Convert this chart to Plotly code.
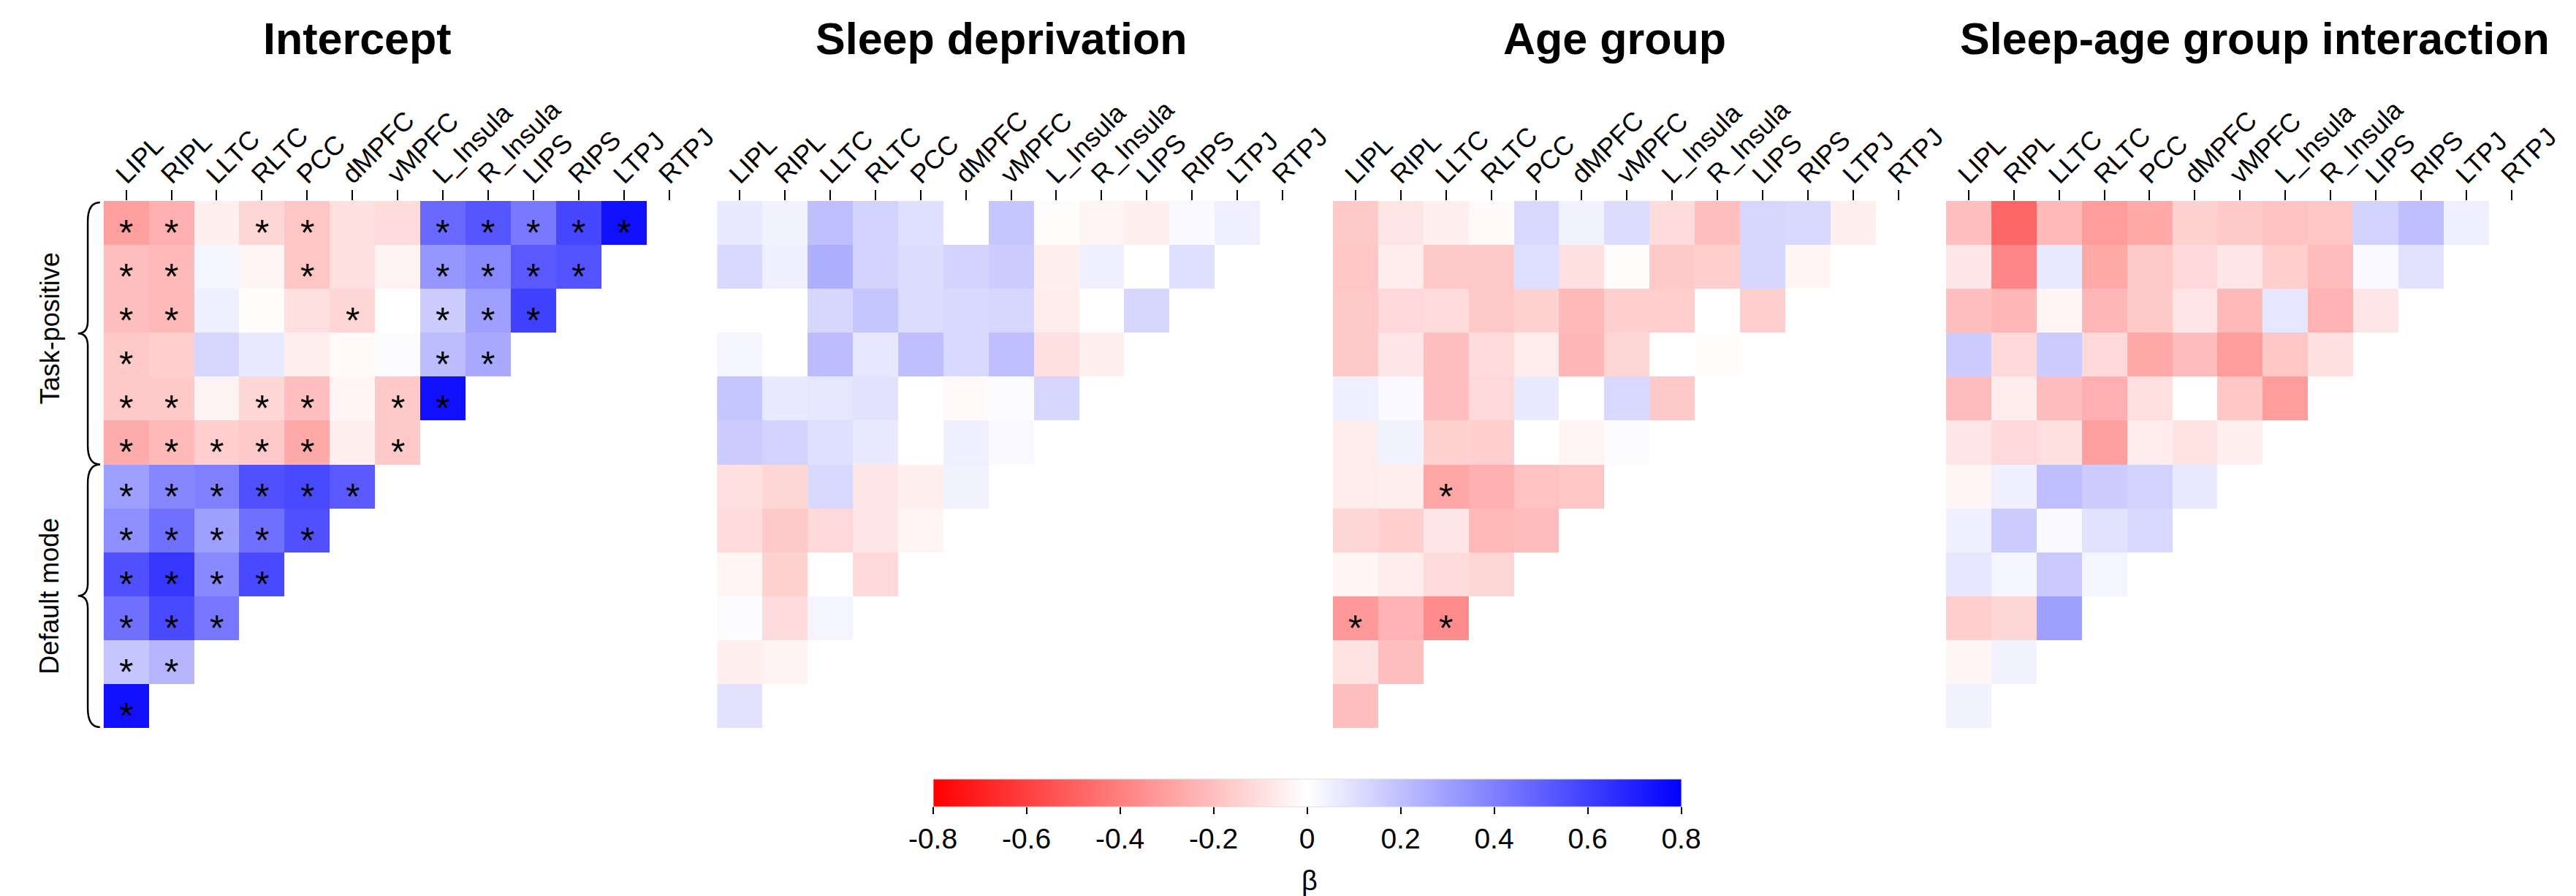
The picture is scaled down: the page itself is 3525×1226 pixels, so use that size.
import plotly.graph_objects as go

W, H = 3525, 1226
# effective paper width observed in the rendering pipeline
W_EFF = 3484

regions = ["LIPL", "RIPL", "LLTC", "RLTC", "PCC", "dMPFC", "vMPFC",
           "L_Insula", "R_Insula", "LIPS", "RIPS", "LTPJ", "RTPJ"]

panel_titles = ["Intercept", "Sleep deprivation", "Age group",
                "Sleep-age group interaction"]

groups = ["Task-positive", "Default mode"]

cbar_ticks = [-0.8, -0.6, -0.4, -0.2, 0, 0.2, 0.4, 0.6, 0.8]
cbar_labels = ["-0.8", "-0.6", "-0.4", "-0.2", "0", "0.2", "0.4", "0.6", "0.8"]

# beta values, lower-triangular rows (row 0 at top)
intercept = [
    [-0.30, -0.25, -0.05, -0.13, -0.18, -0.10, -0.11, 0.47, 0.53, 0.42, 0.58, 0.75],
    [-0.20, -0.22, 0.03, -0.03, -0.18, -0.10, -0.04, 0.33, 0.37, 0.52, 0.54],
    [-0.20, -0.22, 0.05, -0.01, -0.10, -0.13, 0.00, 0.16, 0.30, 0.60],
    [-0.17, -0.15, 0.13, 0.07, -0.05, -0.02, 0.01, 0.21, 0.27],
    [-0.17, -0.17, -0.04, -0.13, -0.20, -0.03, -0.17, 0.75],
    [-0.26, -0.22, -0.15, -0.17, -0.27, -0.05, -0.17],
    [0.30, 0.38, 0.40, 0.55, 0.57, 0.52],
    [0.35, 0.45, 0.30, 0.45, 0.55],
    [0.55, 0.63, 0.37, 0.57],
    [0.45, 0.57, 0.43],
    [0.18, 0.23],
    [0.75],
]

sleep = [
    [0.07, 0.04, 0.20, 0.14, 0.10, 0.00, 0.18, -0.01, -0.03, -0.05, 0.02, 0.05],
    [0.12, 0.05, 0.25, 0.14, 0.11, 0.14, 0.16, -0.05, 0.05, 0.00, 0.10],
    [0.00, 0.00, 0.13, 0.18, 0.11, 0.12, 0.13, -0.06, 0.00, 0.13],
    [0.03, 0.00, 0.21, 0.08, 0.20, 0.12, 0.20, -0.10, -0.05],
    [0.18, 0.07, 0.08, 0.09, 0.00, -0.02, 0.01, 0.13],
    [0.16, 0.14, 0.10, 0.07, 0.00, 0.05, 0.02],
    [-0.10, -0.13, 0.12, -0.08, -0.05, 0.04],
    [-0.11, -0.17, -0.12, -0.08, -0.03],
    [-0.03, -0.14, 0.00, -0.12],
    [0.01, -0.11, 0.03],
    [-0.05, -0.04],
    [0.09],
]

age = [
    [-0.17, -0.08, -0.05, -0.02, 0.12, 0.04, 0.11, -0.11, -0.20, 0.13, 0.12, -0.05],
    [-0.18, -0.06, -0.17, -0.17, 0.10, -0.10, -0.01, -0.17, -0.15, 0.13, -0.03],
    [-0.17, -0.12, -0.11, -0.17, -0.14, -0.22, -0.15, -0.15, 0.00, -0.15],
    [-0.17, -0.08, -0.20, -0.11, -0.06, -0.23, -0.13, 0.00, -0.01],
    [0.05, 0.02, -0.20, -0.12, 0.07, 0.00, 0.12, -0.17],
    [-0.06, 0.04, -0.14, -0.15, 0.00, -0.03, 0.01],
    [-0.06, -0.05, -0.28, -0.25, -0.19, -0.18],
    [-0.13, -0.15, -0.08, -0.22, -0.21],
    [-0.03, -0.06, -0.11, -0.13],
    [-0.32, -0.24, -0.36],
    [-0.09, -0.20],
    [-0.20],
]

interaction = [
    [-0.20, -0.48, -0.22, -0.31, -0.27, -0.14, -0.17, -0.19, -0.18, 0.14, 0.20, 0.05],
    [-0.08, -0.38, 0.07, -0.27, -0.17, -0.12, -0.08, -0.15, -0.21, 0.02, 0.09],
    [-0.20, -0.23, -0.03, -0.23, -0.17, -0.08, -0.22, 0.08, -0.24, -0.08],
    [0.16, -0.12, 0.16, -0.12, -0.27, -0.21, -0.31, -0.18, -0.10],
    [-0.21, -0.06, -0.21, -0.25, -0.10, 0.00, -0.18, -0.31],
    [-0.08, -0.12, -0.10, -0.30, -0.06, -0.09, -0.05],
    [-0.03, 0.05, 0.20, 0.16, 0.14, 0.07],
    [0.05, 0.16, 0.02, 0.09, 0.12],
    [0.08, 0.03, 0.17, 0.03],
    [-0.15, -0.13, 0.30],
    [-0.03, 0.04],
    [0.04],
]

# significance marks (1 = "*")
intercept_sig = [
    [1, 1, 0, 1, 1, 0, 0, 1, 1, 1, 1, 1],
    [1, 1, 0, 0, 1, 0, 0, 1, 1, 1, 1],
    [1, 1, 0, 0, 0, 1, 0, 1, 1, 1],
    [1, 0, 0, 0, 0, 0, 0, 1, 1],
    [1, 1, 0, 1, 1, 0, 1, 1],
    [1, 1, 1, 1, 1, 0, 1],
    [1, 1, 1, 1, 1, 1],
    [1, 1, 1, 1, 1],
    [1, 1, 1, 1],
    [1, 1, 1],
    [1, 1],
    [1],
]
sleep_sig = [[0] * len(r) for r in sleep]
age_sig = [[0] * len(r) for r in age]
age_sig[6][2] = 1
age_sig[9][0] = 1
age_sig[9][2] = 1
interaction_sig = [[0] * len(r) for r in interaction]

panels = [intercept, sleep, age, interaction]
sigs = [intercept_sig, sleep_sig, age_sig, interaction_sig]

FONT = "Liberation Sans, Arial, sans-serif"

def ppx(x):
    return x / W_EFF

def ppy(y):
    return 1 - y / H

cell_w = 61.85
panel_left = [141.6, 980.3, 1822.3, 2660.6]
top_px, bot_px = 275.0, 996.0
title_cx = [489, 1369, 2208, 3083]

n_rows = len(intercept)
n_cols = len(regions)

fig = go.Figure()
annotations = []

for i, (vals, sg) in enumerate(zip(panels, sigs)):
    z = []
    for r in vals:
        z.append(list(r) + [None] * (n_cols - len(r)))
    xa = "x" if i == 0 else f"x{i+1}"
    ya = "y" if i == 0 else f"y{i+1}"
    fig.add_trace(go.Heatmap(
        z=z, x=regions, y=list(range(n_rows)),
        coloraxis="coloraxis", xaxis=xa, yaxis=ya,
        hoverongaps=False,
    ))
    left = panel_left[i]
    right = left + n_cols * cell_w
    key = "" if i == 0 else str(i + 1)
    fig.layout["xaxis" + key] = dict(
        domain=[ppx(left), ppx(right)], anchor=ya, side="top",
        type="category", range=[-0.5, n_cols - 0.5],
        showgrid=False, zeroline=False, showline=False,
        ticks="outside", ticklen=14, tickwidth=2, tickcolor="black",
        tickangle=-45, tickfont=dict(family=FONT, size=36, color="black"),
        ticklabelstandoff=-13, ticklabelshift=-12, fixedrange=True,
    )
    fig.layout["yaxis" + key] = dict(
        domain=[ppy(bot_px), ppy(top_px)], anchor=xa,
        range=[n_rows - 0.5, -0.5], showgrid=False, zeroline=False,
        showline=False, showticklabels=False, ticks="", fixedrange=True,
    )
    # significance stars
    for r, row in enumerate(sg):
        for c, s in enumerate(row):
            if s:
                annotations.append(dict(
                    x=regions[c], y=r, xref=xa, yref=ya, text="*",
                    showarrow=False, yshift=-14,
                    font=dict(family=FONT, size=50, color="black"),
                ))
    # panel title
    annotations.append(dict(
        x=ppx(title_cx[i]), y=ppy(53), xref="paper", yref="paper",
        text="<b>" + panel_titles[i] + "</b>", showarrow=False,
        xanchor="center", yanchor="middle",
        font=dict(family=FONT, size=61, color="black"),
    ))

# group labels
row_h = (bot_px - top_px) / n_rows
annotations.append(dict(
    x=ppx(68), y=ppy(top_px + 3 * row_h - 6), xref="paper", yref="paper",
    text=groups[0], textangle=-90, showarrow=False,
    xanchor="center", yanchor="middle",
    font=dict(family=FONT, size=36, color="black"),
))
annotations.append(dict(
    x=ppx(68), y=ppy(top_px + 9 * row_h), xref="paper", yref="paper",
    text=groups[1], textangle=-90, showarrow=False,
    xanchor="center", yanchor="middle",
    font=dict(family=FONT, size=36, color="black"),
))

# beta label under colorbar
annotations.append(dict(
    x=ppx(1790), y=ppy(1205), xref="paper", yref="paper", text="β",
    showarrow=False, xanchor="center", yanchor="middle",
    font=dict(family=FONT, size=38, color="black"),
))

# curly braces
def brace(y0, y1):
    xt, xv, xc = 136.7, 120.0, 106.7
    ym = (y0 + y1) / 2
    pts = [
        ("M", (xt, y0)),
        ("Q", (xv, y0), (xv, y0 + 26)),
        ("L", (xv, ym - 17)),
        ("Q", (xv, ym), (xc, ym)),
        ("Q", (xv, ym), (xv, ym + 17)),
        ("L", (xv, y1 - 26)),
        ("Q", (xv, y1), (xt, y1)),
    ]
    s = ""
    for p in pts:
        s += p[0] + " " + " ".join(f"{ppx(a):.6f},{ppy(b):.6f}" for a, b in p[1:]) + " "
    return dict(type="path", path=s.strip(), xref="paper", yref="paper",
                line=dict(color="black", width=2.5))

mid_px = top_px + 6 * row_h
shapes = [brace(top_px + 2, mid_px), brace(mid_px, bot_px - 1)]

fig.update_layout(
    width=W, height=H,
    margin=dict(l=0, r=0, t=0, b=0),
    paper_bgcolor="white", plot_bgcolor="white",
    annotations=annotations, shapes=shapes,
    coloraxis=dict(
        cmin=-0.8, cmax=0.8,
        colorscale=[[0, "rgb(255,0,0)"], [0.5, "rgb(255,255,255)"], [1, "rgb(0,0,255)"]],
        colorbar=dict(
            orientation="h", x=ppx(1787), xanchor="center",
            y=ppy(1066), yanchor="top", len=1024, lenmode="pixels",
            thickness=38, thicknessmode="pixels", xpad=0, ypad=0,
            ticks="outside", ticklen=10, tickwidth=2, tickcolor="black",
            tickvals=cbar_ticks, ticktext=cbar_labels,
            tickfont=dict(family=FONT, size=39, color="black"),
            outlinewidth=1, outlinecolor="#dddddd",
        ),
    ),
    showlegend=False,
)

fig.write_html("out.html")
